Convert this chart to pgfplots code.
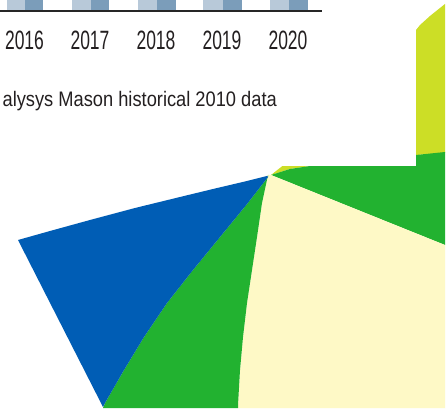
\documentclass[border=0pt]{standalone}
\usepackage{pgfplots}
\pgfplotsset{compat=1.18}
\usepackage{fontspec}
\setmainfont{Liberation Sans}
\definecolor{pblue}{HTML}{005DB5}
\definecolor{pgreen}{HTML}{22B230}
\definecolor{pcream}{HTML}{FEF9C6}
\definecolor{pygreen}{HTML}{CCDE26}
\definecolor{barlight}{HTML}{B8C9D9}
\definecolor{bardark}{HTML}{7B9DBA}
\definecolor{txt}{HTML}{231F20}
\begin{document}
\begin{tikzpicture}
\begin{axis}[
  x=1pt, y=1pt, y dir=reverse,
  xmin=0, xmax=447, ymin=0, ymax=411,
  hide axis, enlargelimits=false, clip=true,
]
% background
\addplot[fill=white, draw=none] coordinates {(0,0) (447,0) (447,411) (0,411)} --cycle;
% pie fragments
\addplot[fill=pygreen, draw=none] coordinates {(271,175) (290,160) (416,30) (420,25) (430,16) (440,8) (445,4) (445,153) (416,155) (310,166) (290,169)} --cycle;
\addplot[fill=pgreen, draw=none] coordinates {(271,175) (290,169) (310,166) (416,155) (445,152) (445,245)} --cycle;
\addplot[fill=pcream, draw=none] coordinates {(271,175) (445,245) (445,408) (238,408) (238,405) (240,370) (243,337) (247,303) (252,270) (257,237) (262,203) (268,175)} --cycle;
\addplot[fill=pgreen, draw=none] coordinates {(268,175) (262,203) (257,237) (252,270) (247,303) (243,337) (240,370) (238,405) (238,408) (103,408) (105,403) (124,370) (144,337) (167,303) (193,270) (220,237) (247,204) (268,177)} --cycle;
\addplot[fill=pblue, draw=none] coordinates {(268,177) (247,204) (220,237) (193,270) (167,303) (144,337) (124,370) (105,403) (103,407) (18,240) (50,231) (90,220) (135,208) (180,197) (213,189) (247,181) (267,176)} --cycle;
% white panel of the bar chart
\addplot[fill=white, draw=none] coordinates {(0,0) (416,0) (416,166) (0,166)} --cycle;
% bars (light / dark pairs)
\addplot[fill=barlight, draw=none] coordinates {(7,0) (25,0) (25,10) (7,10)} --cycle;
\addplot[fill=bardark, draw=none] coordinates {(25,0) (43,0) (43,10) (25,10)} --cycle;
\addplot[fill=barlight, draw=none] coordinates {(72,0) (91,0) (91,10) (72,10)} --cycle;
\addplot[fill=bardark, draw=none] coordinates {(91,0) (109,0) (109,10) (91,10)} --cycle;
\addplot[fill=barlight, draw=none] coordinates {(138,0) (157,0) (157,10) (138,10)} --cycle;
\addplot[fill=bardark, draw=none] coordinates {(157,0) (176,0) (176,10) (157,10)} --cycle;
\addplot[fill=barlight, draw=none] coordinates {(203,0) (223,0) (223,10) (203,10)} --cycle;
\addplot[fill=bardark, draw=none] coordinates {(223,0) (242,0) (242,10) (223,10)} --cycle;
\addplot[fill=barlight, draw=none] coordinates {(270,0) (289,0) (289,10) (270,10)} --cycle;
\addplot[fill=bardark, draw=none] coordinates {(289,0) (308,0) (308,10) (289,10)} --cycle;
% baseline
\addplot[draw=black!85, line width=1.5pt] coordinates {(0,11) (322,11)};
% labels
\foreach \xx/\lab in {24.5/2016, 90/2017, 156/2018, 222/2019, 288/2020}{
  \edef\temp{\noexpand\node[anchor=base, inner sep=0pt, text=txt, font=\noexpand\fontsize{26.5}{30}\noexpand\selectfont] at (axis cs:\xx,50) {\noexpand\scalebox{0.66}[1]{\lab}};}
  \temp
}
\node[anchor=base east, inner sep=0pt, text=txt, font=\fontsize{21}{25}\selectfont] at (axis cs:277,107) {\scalebox{0.87}[1]{alysys Mason historical 2010 data}};
\end{axis}
\end{tikzpicture}
\end{document}
